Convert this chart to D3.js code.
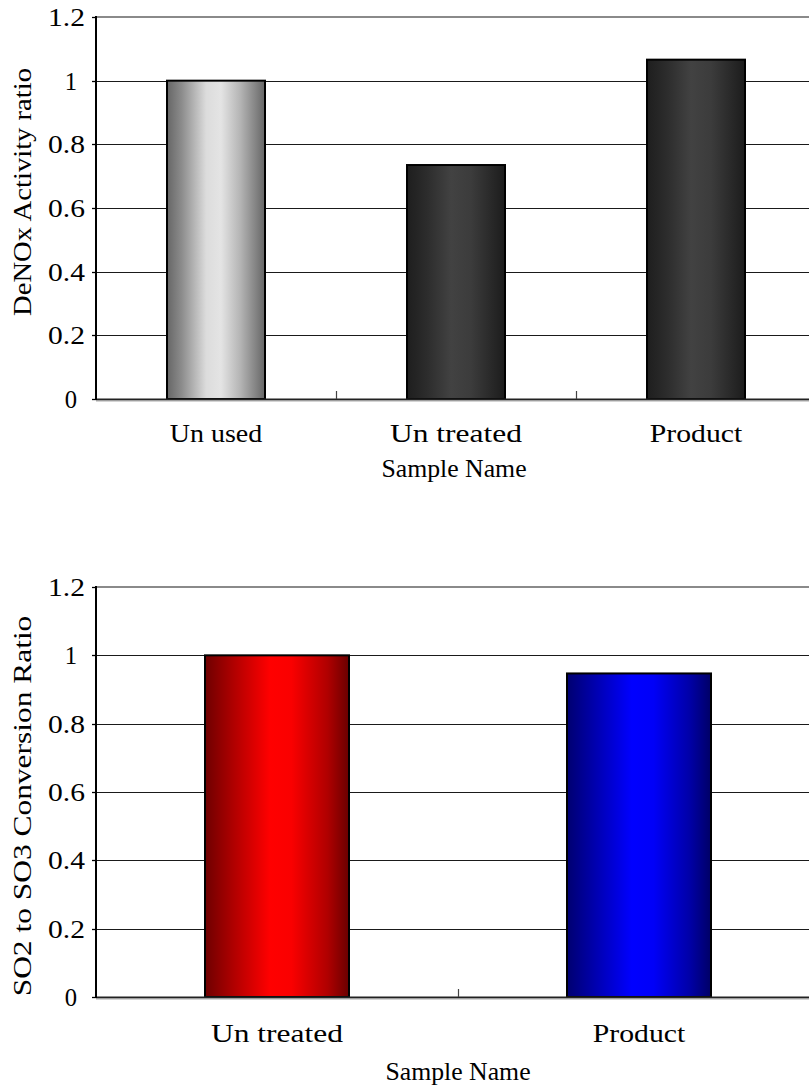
<!DOCTYPE html>
<html>
<head>
<meta charset="utf-8">
<script src="https://cdn.jsdelivr.net/npm/d3@7"></script>
<style>
  html, body { margin: 0; padding: 0; background: #fff; }
  svg { display: block; }
  text { font-family: "Liberation Serif", "DejaVu Serif", serif; fill: #000; }
</style>
</head>
<body>
<svg id="chart" width="809" height="1087"></svg>
<script>
// ---- data ----
const topCategories = ["Un used", "Un treated", "Product"];
const topValues = [1.0, 0.735, 1.066];
const topGradients = ["gray", "dark", "dark"];
const topYLabel = "DeNOx Activity ratio";

const bottomCategories = ["Un treated", "Product"];
const bottomValues = [1.0, 0.947];
const bottomGradients = ["red", "blue"];
const bottomYLabel = "SO2 to SO3 Conversion Ratio";

const xTitle = "Sample Name";
const yTicks = [0, 0.2, 0.4, 0.6, 0.8, 1.0, 1.2];
const yTickLabels = ["0", "0.2", "0.4", "0.6", "0.8", "1", "1.2"];

const svg = d3.select("#chart");
const defs = svg.append("defs");

const gradStops = {
  gray: [["0%", "#666"], ["15%", "#8c8c8c"], ["40%", "#dcdcdc"], ["55%", "#e4e4e4"], ["75%", "#b4b4b4"], ["100%", "#666"]],
  dark: [["0%", "#1e1e1e"], ["20%", "#2c2c2c"], ["45%", "#424242"], ["65%", "#3c3c3c"], ["100%", "#1c1c1c"]],
  red:  [["0%", "#6e0000"], ["20%", "#b00000"], ["45%", "#ff0000"], ["60%", "#fa0000"], ["85%", "#b00000"], ["100%", "#6a0000"]],
  blue: [["0%", "#000070"], ["20%", "#0000b0"], ["45%", "#0000ff"], ["60%", "#0000f8"], ["85%", "#0000a8"], ["100%", "#000066"]]
};
Object.entries(gradStops).forEach(([id, stops]) => {
  const g = defs.append("linearGradient").attr("id", "g-" + id)
    .attr("x1", "0%").attr("x2", "100%").attr("y1", "0%").attr("y2", "0%");
  stops.forEach(([o, c]) => g.append("stop").attr("offset", o).attr("stop-color", c));
});

function txt(sel, s, perChar, fs) {
  sel.text(s).attr("font-size", fs)
    .attr("textLength", s.length * perChar)
    .attr("lengthAdjust", "spacingAndGlyphs");
  return sel;
}

function drawChart(cfg) {
  const g = svg.append("g");
  const x = d3.scaleBand().domain(cfg.categories).range([cfg.left, cfg.right])
    .paddingInner(cfg.pad).paddingOuter(cfg.pad / 2);
  const y = d3.scaleLinear().domain([0, 1.2]).range([cfg.bottom, cfg.top]);

  // gridlines
  g.selectAll("line.grid").data(yTicks.filter(t => t > 0 && t < 1.2)).join("line")
    .attr("x1", cfg.left).attr("x2", cfg.right)
    .attr("y1", d => Math.round(y(d)) + 0.5).attr("y2", d => Math.round(y(d)) + 0.5)
    .attr("stroke", "#1a1a1a").attr("stroke-width", 1.2);
  // top border
  g.append("line").attr("x1", cfg.left).attr("x2", cfg.right)
    .attr("y1", y(1.2)).attr("y2", y(1.2))
    .attr("stroke", "#8a8a8a").attr("stroke-width", 2);

  // bars
  const barW = cfg.barW;
  g.selectAll("rect.bar").data(cfg.values).join("rect")
    .attr("x", (d, i) => x(cfg.categories[i]) + x.bandwidth() / 2 - barW / 2)
    .attr("y", d => y(d))
    .attr("width", barW)
    .attr("height", d => y(0) - y(d))
    .attr("fill", (d, i) => "url(#g-" + cfg.gradients[i] + ")")
    .attr("stroke", "#000").attr("stroke-width", 2);

  // x baseline
  g.append("line").attr("x1", cfg.left).attr("x2", cfg.right)
    .attr("y1", y(0) + 0.5).attr("y2", y(0) + 0.5)
    .attr("stroke", "#222").attr("stroke-width", 2);
  g.append("line").attr("x1", cfg.left).attr("x2", cfg.right)
    .attr("y1", y(0) + 2).attr("y2", y(0) + 2)
    .attr("stroke", "#aaa").attr("stroke-width", 1);

  // x ticks between categories
  const bounds = cfg.categories.slice(1).map(c => x(c) - x.step() * x.paddingInner() / 2);
  g.selectAll("line.xt").data(bounds).join("line")
    .attr("x1", d => Math.round(d) + 0.5).attr("x2", d => Math.round(d) + 0.5)
    .attr("y1", y(0)).attr("y2", y(0) - 8)
    .attr("stroke", "#444").attr("stroke-width", 1.2);

  // y axis
  g.append("line").attr("x1", cfg.left).attr("x2", cfg.left)
    .attr("y1", y(1.2) - 1).attr("y2", y(0) + 1)
    .attr("stroke", "#000").attr("stroke-width", 2);
  g.selectAll("line.yt").data(yTicks).join("line")
    .attr("x1", cfg.left - 4).attr("x2", cfg.left)
    .attr("y1", d => Math.round(y(d)) + 0.5).attr("y2", d => Math.round(y(d)) + 0.5)
    .attr("stroke", "#000").attr("stroke-width", 1.3);

  // y tick labels
  g.selectAll("text.ytl").data(yTicks).join("text")
    .each(function (d, i) { txt(d3.select(this), yTickLabels[i], 12.3, 26); })
    .attr("x", (d, i) => yTickLabels[i].length === 1 ? 77 : 85)
    .attr("y", d => y(d) + 9).attr("text-anchor", "end");

  // x labels
  g.selectAll("text.xl").data(cfg.categories).join("text")
    .each(function (d) { txt(d3.select(this), d, 13.2, 26); })
    .attr("x", d => x(d) + x.bandwidth() / 2).attr("y", cfg.xLabelY).attr("text-anchor", "middle");

  // x title
  txt(g.append("text"), xTitle, 13.2, 26)
    .attr("x", cfg.xTitleX).attr("y", cfg.xTitleY).attr("text-anchor", "middle");

  // y title
  txt(g.append("text"), cfg.yLabel, cfg.yPerChar, 26)
    .attr("text-anchor", "middle")
    .attr("transform", `translate(${cfg.yTitleX},${cfg.yTitleY}) rotate(-90)`);
}

drawChart({
  categories: topCategories, values: topValues, gradients: topGradients, yLabel: topYLabel,
  left: 96, right: 816, top: 17, bottom: 399, pad: 0.59, barW: 98,
  xLabelY: 442, xTitleX: 454, xTitleY: 477,
  yTitleX: 31, yTitleY: 192, yPerChar: 12.4
});

drawChart({
  categories: bottomCategories, values: bottomValues, gradients: bottomGradients, yLabel: bottomYLabel,
  left: 96, right: 820, top: 587, bottom: 997, pad: 0.6, barW: 144,
  xLabelY: 1042, xTitleX: 458, xTitleY: 1080,
  yTitleX: 31, yTitleY: 806, yPerChar: 14.1
});
</script>
</body>
</html>
